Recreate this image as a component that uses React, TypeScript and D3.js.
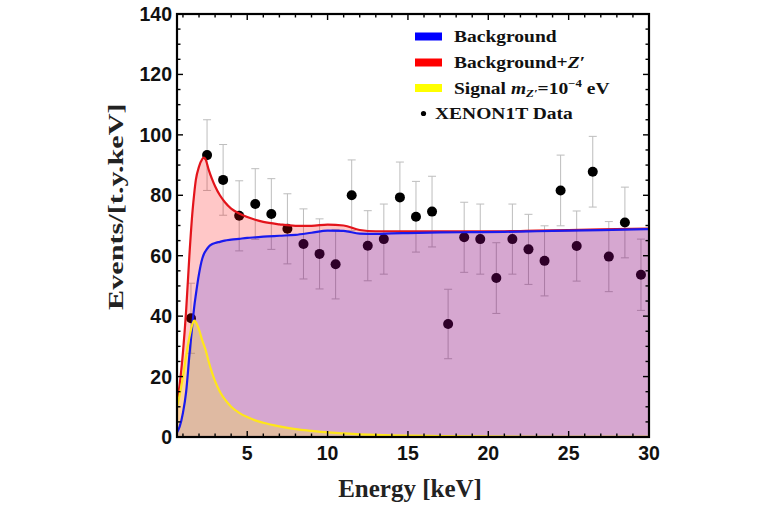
import React from "react";
import * as d3 from "d3";

const energyGrid = [0.63, 0.8, 1.0, 1.2, 1.4, 1.6, 1.7, 1.8, 2.0, 2.2, 2.3, 2.4, 2.6, 2.8, 3.0, 3.3, 3.6, 4.0, 4.5, 5, 5.5, 6, 7, 8, 9, 10, 11, 12, 13, 14, 15, 17, 19, 21, 23, 25, 27, 30];
const backgroundRate = [1.5, 3.5, 8, 15, 27, 38, 43, 47, 54, 59, 60.5, 61.5, 63, 63.8, 64.2, 64.6, 65, 65.3, 65.6, 65.9, 66.1, 66.3, 66.6, 66.9, 67.6, 68.3, 68.2, 67.3, 67.2, 67.4, 67.5, 67.7, 67.8, 67.9, 68.1, 68.3, 68.5, 68.8];
const totalRate = [11.5, 17.5, 28, 42, 60, 75, 80.5, 85, 89.5, 92, 92.5, 92, 88.5, 85.5, 83, 80, 77.8, 75.6, 74, 72.8, 71.9, 71.2, 70.4, 69.9, 69.9, 70.3, 70, 68.5, 68.1, 68.1, 68.1, 68.1, 68.1, 68.1, 68.3, 68.5, 68.7, 69.0];
const signalRate = [10, 14, 20, 27, 33, 37.5, 38.5, 38, 35.5, 32, 30.5, 29, 25, 21.5, 18.5, 15, 12.5, 10, 8, 6.6, 5.5, 4.7, 3.5, 2.6, 2.0, 1.5, 1.2, 0.9, 0.7, 0.55, 0.45, 0.3, 0.2, 0.12, 0.08, 0.05, 0.03, 0.02];

const dataEnergy = [1.5, 2.5, 3.5, 4.5, 5.5, 6.5, 7.5, 8.5, 9.5, 10.5, 11.5, 12.5, 13.5, 14.5, 15.5, 16.5, 17.5, 18.5, 19.5, 20.5, 21.5, 22.5, 23.5, 24.5, 25.5, 26.5, 27.5, 28.5, 29.5];
const dataRate = [39.3, 93.3, 85.1, 73.2, 77.1, 73.8, 68.9, 63.9, 60.6, 57.2, 80.0, 63.3, 65.5, 79.3, 72.9, 74.6, 37.4, 66.1, 65.5, 52.6, 65.5, 62.1, 58.3, 81.6, 63.2, 87.8, 59.7, 71.0, 53.7];
const dataError = [11.6, 11.7, 11.7, 11.6, 11.7, 11.7, 11.6, 11.6, 11.6, 11.5, 11.7, 11.6, 11.6, 11.7, 11.7, 11.7, 11.5, 11.6, 11.6, 11.7, 11.6, 11.6, 11.6, 11.7, 11.6, 11.7, 11.6, 11.7, 11.8];

const xTicks = [5, 10, 15, 20, 25, 30];
const yTicks = [0, 20, 40, 60, 80, 100, 120, 140];
const xMinor = d3.range(1, 31, 1);
const yMinor = d3.range(0, 141, 5);

const L = 177, R = 649, T = 14, B = 437;

export default function App() {
  const x = d3.scaleLinear().domain([0.63, 30]).range([L, R]);
  const y = d3.scaleLinear().domain([0, 140]).range([B, T]);

  const pts = (vals: number[]) => energyGrid.map((e, i) => [e, vals[i]] as [number, number]);
  const area = d3.area<[number, number]>().x(d => x(d[0])).y0(y(0)).y1(d => y(d[1])).curve(d3.curveMonotoneX);
  const line = d3.line<[number, number]>().x(d => x(d[0])).y(d => y(d[1])).curve(d3.curveMonotoneX);

  const sans = "'Liberation Sans', Arial, sans-serif";
  const serif = "'Liberation Serif', 'Times New Roman', serif";

  const legendRows = [36.5, 62.5, 88, 113.5];

  return (
    <svg width={760} height={506} style={{ position: "absolute", left: 0, top: 0, background: "#fff" }}>
      <defs>
        <clipPath id="plotclip">
          <rect x={L} y={T} width={R - L} height={B - T} />
        </clipPath>
      </defs>
      <rect x={0} y={0} width={760} height={506} fill="#fff" />
      <g clipPath="url(#plotclip)">
        {/* data (under fills) */}
        {dataEnergy.map((e, i) => {
          const cx = x(e);
          const y1 = y(dataRate[i] + dataError[i]);
          const y2 = y(dataRate[i] - dataError[i]);
          return (
            <g key={"e" + i} stroke="#bdbdbd" strokeWidth={1}>
              <line x1={cx} x2={cx} y1={y1} y2={y2} />
              <line x1={cx - 4} x2={cx + 4} y1={y1} y2={y1} />
              <line x1={cx - 4} x2={cx + 4} y1={y2} y2={y2} />
            </g>
          );
        })}
        {dataEnergy.map((e, i) => (
          <circle key={"p" + i} cx={x(e)} cy={y(dataRate[i])} r={5} fill="#000" />
        ))}
        {/* fills */}
        <path d={area(pts(totalRate)) || ""} fill="rgba(255,0,0,0.22)" />
        <path d={area(pts(backgroundRate)) || ""} fill="rgba(0,0,255,0.16)" />
        <path d={area(pts(signalRate)) || ""} fill="rgba(255,255,0,0.22)" />
        {/* lines */}
        <path d={line(pts(totalRate)) || ""} fill="none" stroke="#e3141b" strokeWidth={2.2} />
        <path d={line(pts(backgroundRate)) || ""} fill="none" stroke="#1a1aee" strokeWidth={2.2} />
        <path d={line(pts(signalRate)) || ""} fill="none" stroke="#ffe61a" strokeWidth={2.2} />
      </g>

      {/* ticks */}
      <g stroke="#000" strokeWidth={1.4}>
        {xMinor.map(v => {
          const len = v % 5 === 0 ? 6 : 3.5;
          return (
            <g key={"xm" + v}>
              <line x1={x(v)} x2={x(v)} y1={B} y2={B - len} />
              <line x1={x(v)} x2={x(v)} y1={T} y2={T + len} />
            </g>
          );
        })}
        {yMinor.map(v => {
          const len = v % 20 === 0 ? 6 : 3.5;
          return (
            <g key={"ym" + v}>
              <line x1={L} x2={L + len} y1={y(v)} y2={y(v)} />
              <line x1={R} x2={R - len} y1={y(v)} y2={y(v)} />
            </g>
          );
        })}
      </g>
      <rect x={L} y={T} width={R - L} height={B - T} fill="none" stroke="#000" strokeWidth={2.2} />

      {/* tick labels */}
      <g fontFamily={sans} fontWeight="bold" fontSize={19.5} fill="#111">
        {xTicks.map(v => (
          <text key={"xl" + v} x={x(v)} y={460} textAnchor="middle">{v}</text>
        ))}
        {yTicks.map(v => (
          <text key={"yl" + v} x={172} y={y(v) + 7} textAnchor="end">{v}</text>
        ))}
      </g>

      {/* axis titles */}
      <text x={410} y={496.5} textAnchor="middle" fontFamily={serif} fontWeight="bold" fontSize={25} fill="#222">Energy [keV]</text>
      <g transform="translate(122.5,206.7) rotate(-90) scale(1.44,1)">
        <text x={0} y={0} textAnchor="middle" fontFamily={serif} fontWeight="bold" fontSize={21} fill="#222">Events/[t.y.keV]</text>
      </g>

      {/* legend */}
      <rect x={415} y={legendRows[0] - 4} width={27} height={8} fill="#0000ff" />
      <rect x={415} y={legendRows[1] - 4} width={27} height={8} fill="#ff0000" />
      <rect x={415} y={legendRows[2] - 4} width={27} height={8} fill="#ffff00" />
      <circle cx={423.5} cy={legendRows[3]} r={2.6} fill="#000" />
      <g fontFamily={serif} fontWeight="bold" fontSize={16} fill="#111">
        <g transform={`translate(454,${legendRows[0] + 5.5}) scale(1.22,1)`}>
          <text x={0} y={0}>Background</text>
        </g>
        <g transform={`translate(454,${legendRows[1] + 5.5}) scale(1.22,1)`}>
          <text x={0} y={0}>Background+<tspan fontStyle="italic">Z</tspan>′</text>
        </g>
        <g transform={`translate(454,${legendRows[2] + 5.5}) scale(1.22,1)`}>
          <text x={0} y={0}>
            Signal <tspan fontStyle="italic">m</tspan>
            <tspan fontStyle="italic" fontSize={10.5} dy={3.5}>Z′</tspan>
            <tspan dy={-3.5}>=10</tspan>
            <tspan fontSize={10.5} dy={-7}>−4</tspan>
            <tspan dy={7}>{" eV"}</tspan>
          </text>
        </g>
        <g transform={`translate(435,${legendRows[3] + 5.5}) scale(1.22,1)`}>
          <text x={0} y={0}>XENON1T Data</text>
        </g>
      </g>
    </svg>
  );
}
